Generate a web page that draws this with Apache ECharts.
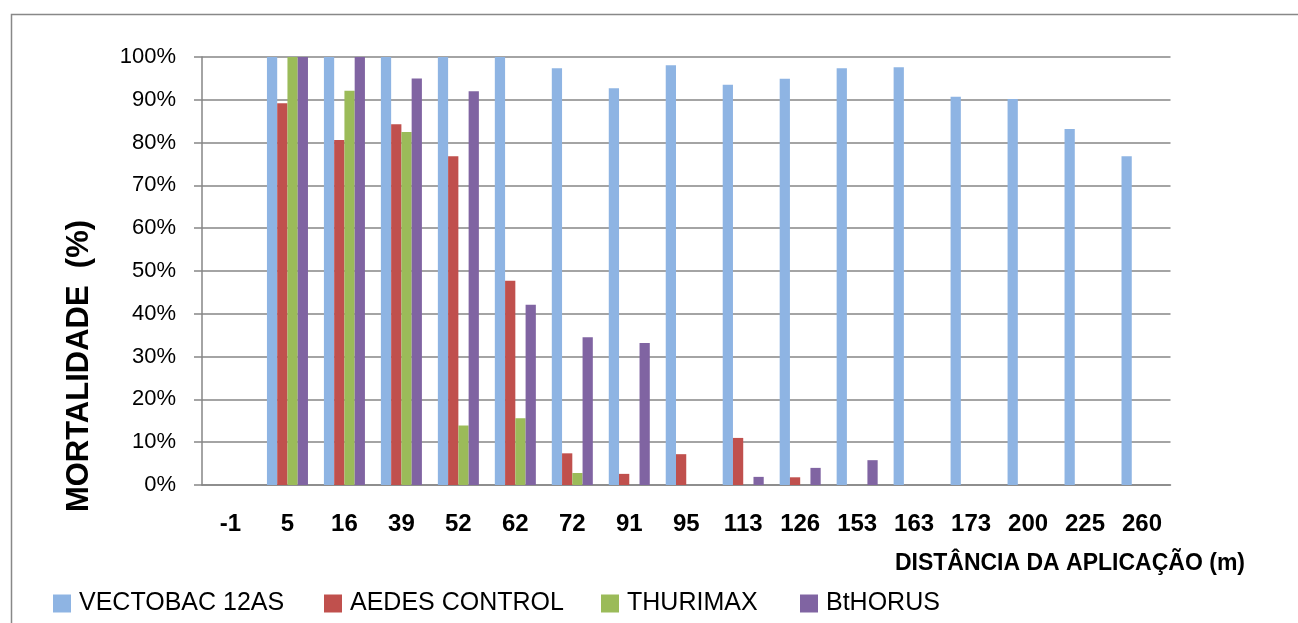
<!DOCTYPE html>
<html>
<head>
<meta charset="utf-8">
<script src="https://cdn.jsdelivr.net/npm/echarts@6/dist/echarts.min.js"></script>
<style>
html,body{margin:0;padding:0;background:#fff;}
#chart{width:1298px;height:623px;}
</style>
</head>
<body>
<div id="chart"></div>
<script>
const categories = ['-1','5','16','39','52','62','72','91','95','113','126','153','163','173','200','225','260'];
const seriesNames = ['VECTOBAC 12AS','AEDES CONTROL','THURIMAX','BtHORUS'];
const vectobac = [0,100,100,100,100,100,97.4,92.7,98.1,93.5,94.9,97.4,97.6,90.7,90.2,83.2,76.8];
const aedes    = [0,89.2,80.6,84.3,76.8,47.7,7.4,2.6,7.2,11.0,1.8,0,0,0,0,0,0];
const thurimax = [0,100,92.1,82.5,13.9,15.6,2.8,0,0,0,0,0,0,0,0,0,0];
const bthorus  = [0,100,100,95.0,92.0,42.1,34.5,33.2,0,1.9,4.0,5.8,0,0,0,0,0];
const yTicks = [0,10,20,30,40,50,60,70,80,90,100];
const yTitle = 'MORTALIDADE  (%)';
const xTitle = 'DISTÂNCIA DA APLICAÇÃO (m)';

const colors = ['#8EB4E3','#C0504D','#9BBB59','#8064A2'];
const values = [vectobac, aedes, thurimax, bthorus];
const FONT = '"Liberation Sans", Arial, sans-serif';
const legendLefts = [53, 324, 601, 800];

const chart = echarts.init(document.getElementById('chart'), null, {renderer:'canvas'});
chart.setOption({
  animation: false,
  backgroundColor: '#fff',
  color: colors,
  grid: {left: 202, right: 127.5, top: 57, bottom: 138, containLabel: false},
  legend: seriesNames.map((n, i) => ({
    data: [n], left: legendLefts[i], top: 591, padding: 0,
    itemWidth: 18, itemHeight: 18, icon: 'rect',
    textStyle: {fontFamily: FONT, fontSize: 25, color: '#000', padding: [0,0,0,3]}
  })),
  xAxis: {
    type: 'category', data: categories,
    axisLine: {lineStyle: {color: '#868686', width: 1.5}},
    axisTick: {show: false},
    axisLabel: {fontFamily: FONT, fontSize: 24, fontWeight: 'bold', color: '#000', margin: 27, interval: 0}
  },
  yAxis: {
    type: 'value', min: yTicks[0], max: yTicks[yTicks.length-1], interval: 10,
    axisLine: {show: true, lineStyle: {color: '#868686', width: 1.5}},
    axisTick: {show: true, inside: false, length: 8, lineStyle: {color: '#868686', width: 1.5}},
    splitLine: {lineStyle: {color: '#868686', width: 1.5}},
    axisLabel: {fontFamily: FONT, fontSize: 22, color: '#000', margin: 26, formatter: '{value}%'}
  },
  graphic: [
    {type: 'rect', left: 9, top: 12, shape: {x: 0, y: 0, width: 1320, height: 700}, silent: true,
     style: {fill: 'none', stroke: '#888', lineWidth: 1.5}},
    {type: 'text', x: 79, y: 366, rotation: Math.PI/2, silent: true,
     style: {text: yTitle, font: 'bold 31px ' + FONT, fill: '#000', textAlign: 'center', textVerticalAlign: 'middle'}},
    {type: 'text', x: 1245, y: 564, silent: true,
     style: {text: xTitle, font: 'bold 23px ' + FONT, fill: '#000', textAlign: 'right', textVerticalAlign: 'middle'}}
  ],
  series: seriesNames.map((n, i) => ({
    name: n, type: 'bar', data: values[i],
    barGap: '0%', barCategoryGap: '28%',
    itemStyle: {color: colors[i]}
  }))
});
</script>
</body>
</html>
